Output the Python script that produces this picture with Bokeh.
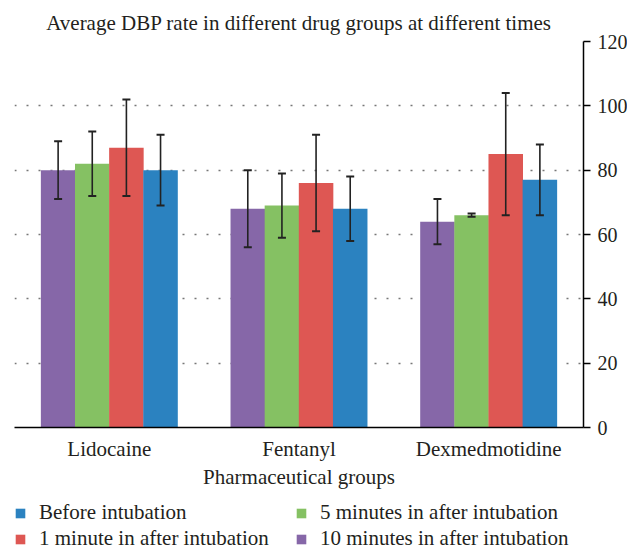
from bokeh.plotting import figure
from bokeh.layouts import column
from bokeh.models import (ColumnDataSource, FactorRange, LinearAxis, Whisker, Legend,
                          LegendItem, Range1d, FixedTicker)
from bokeh.transform import dodge
from bokeh.embed import file_html
from bokeh.resources import INLINE

drugs = ["Lidocaine", "Fentanyl", "Dexmedmotidine"]

series_names = ["10 minutes in after intubation", "5 minutes in after intubation",
                "1 minute in after intubation", "Before intubation"]
series_colors = ["#8667a8", "#85c163", "#de5753", "#2b82c0"]

min10 = [80, 68, 64]
min10_hi = [89, 80, 71]
min10_lo = [71, 56, 57]

min5 = [82, 69, 66]
min5_hi = [92, 79, 66.5]
min5_lo = [72, 59, 65.5]

min1 = [87, 76, 85]
min1_hi = [102, 91, 104]
min1_lo = [72, 61, 66]

before = [80, 68, 77]
before_hi = [91, 78, 88]
before_lo = [69, 58, 66]

y_ticks = [0, 20, 40, 60, 80, 100, 120]

# column-major order: left column then right column
legend_order = ["Before intubation", "1 minute in after intubation",
                "5 minutes in after intubation", "10 minutes in after intubation"]

FONT = "Liberation Serif"
TXT = "#231f20"
FS = "21px"

src = ColumnDataSource(dict(
    drug=drugs,
    min10=min10, min10_hi=min10_hi, min10_lo=min10_lo,
    min5=min5, min5_hi=min5_hi, min5_lo=min5_lo,
    min1=min1, min1_hi=min1_hi, min1_lo=min1_lo,
    before=before, before_hi=before_hi, before_lo=before_lo,
))

p = figure(x_range=FactorRange(*drugs), y_range=Range1d(0, 120),
           frame_width=569, frame_height=386,
           output_backend="svg", toolbar_location=None,
           y_axis_location=None, min_border_left=14, min_border_right=42,
           min_border_top=41, min_border_bottom=68,
           title="Average DBP rate in different drug groups at different times")

p.title.text_font = FONT
p.title.text_font_size = FS
p.title.text_font_style = "normal"
p.title.text_color = TXT
p.title.align = "center"
p.title.standoff = 14

offsets = [-0.27, -0.09, 0.09, 0.27]
keys = ["min10", "min5", "min1", "before"]
for k, off, col in zip(keys, offsets, series_colors):
    p.vbar(x=dodge("drug", off, range=p.x_range), top=k, width=0.182,
           source=src, fill_color=col, line_color=None)
    w = Whisker(base=dodge("drug", off, range=p.x_range), upper=k + "_hi", lower=k + "_lo",
                source=src, line_color="#222222", line_width=1.6, level="annotation")
    for h in (w.upper_head, w.lower_head):
        h.size = 8
        h.line_color = "#222222"
        h.line_width = 2
    p.add_layout(w)

yaxis = LinearAxis(ticker=FixedTicker(ticks=y_ticks))
yaxis.axis_line_color = "black"
yaxis.axis_line_width = 1.5
yaxis.major_tick_line_color = "black"
yaxis.major_tick_line_width = 1.5
yaxis.major_tick_out = 7
yaxis.major_tick_in = 0
yaxis.minor_tick_line_color = None
yaxis.major_label_text_font = FONT
yaxis.major_label_text_font_size = "20px"
yaxis.major_label_text_color = TXT
yaxis.major_label_standoff = 7
p.add_layout(yaxis, "right")

xa = p.xaxis[0]
xa.axis_line_color = "black"
xa.axis_line_width = 1.5
xa.major_tick_line_color = None
xa.minor_tick_line_color = None
xa.major_label_text_font = FONT
xa.major_label_text_font_size = FS
xa.major_label_text_color = TXT
xa.major_label_standoff = 3
xa.axis_label = "Pharmaceutical groups"
xa.axis_label_text_font = FONT
xa.axis_label_text_font_size = FS
xa.axis_label_text_font_style = "normal"
xa.axis_label_text_color = TXT
xa.axis_label_standoff = 1

p.xgrid.grid_line_color = None
p.ygrid.ticker = FixedTicker(ticks=y_ticks)
p.ygrid.grid_line_color = "#777777"
p.ygrid.grid_line_dash = "2 10"
p.ygrid.grid_line_width = 1.5
p.outline_line_color = None

# legend strip below the chart
lg = figure(width=625, height=56, x_range=Range1d(0, 1), y_range=Range1d(0, 1),
            output_backend="svg", toolbar_location=None,
            x_axis_location=None, y_axis_location=None,
            min_border_left=0, min_border_right=0, min_border_top=0, min_border_bottom=0)
lg.grid.grid_line_color = None
lg.outline_line_color = None
name_to_color = dict(zip(series_names, series_colors))
items = []
for n in legend_order:
    # off-range proxy glyph: only its legend swatch is visible
    r = lg.vbar(x=[-5], top=[-5], bottom=[-6], width=0.1,
                fill_color=name_to_color[n], line_color=None)
    items.append(LegendItem(label=n, renderers=[r]))
legend = Legend(items=items, ncols=2, location=(0, 0), orientation="vertical",
                label_text_font=FONT, label_text_font_size=FS, label_text_color=TXT,
                glyph_width=12, glyph_height=12, label_standoff=13, spacing=1,
                label_width=255, label_height=22,
                border_line_color=None, background_fill_alpha=0, padding=0,
                margin=0)
lg.add_layout(legend, "center")

layout = column(p, lg, spacing=0)

with open("out.html", "w") as f:
    f.write(file_html(layout, INLINE))
